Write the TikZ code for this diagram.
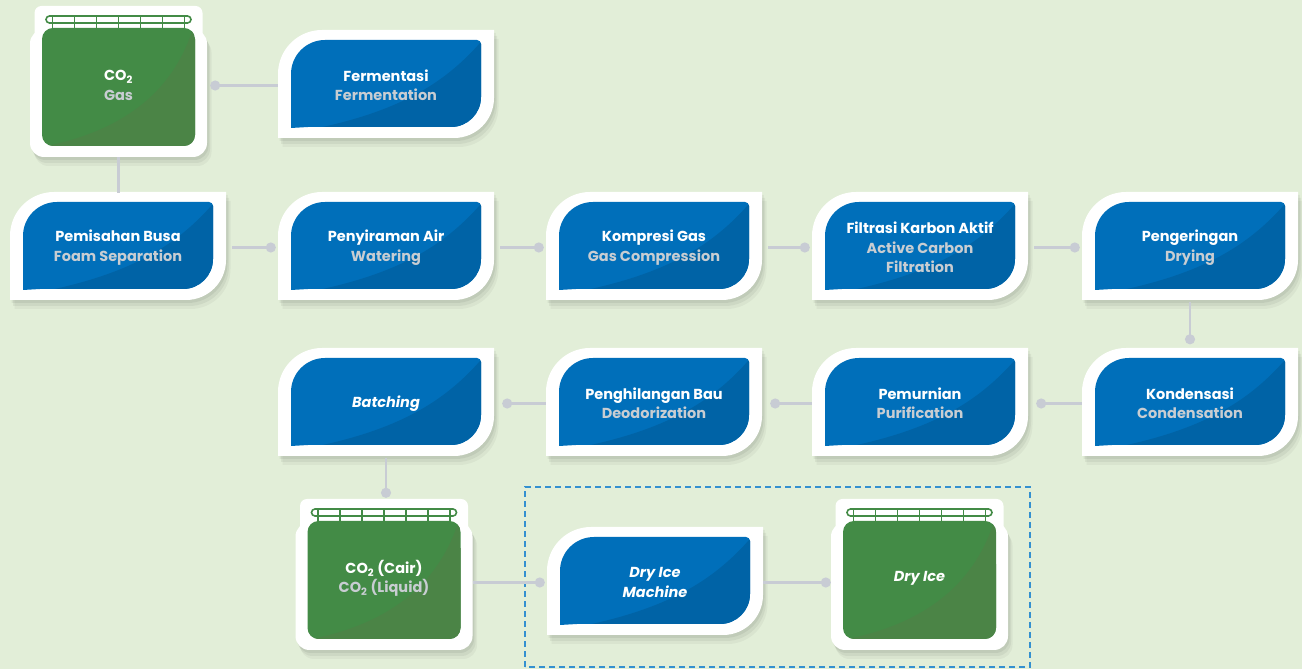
\documentclass[tikz,border=0pt]{standalone}
\usepackage{fontspec}
\setmainfont{Poppins}
\usetikzlibrary{arrows.meta}

\definecolor{bgcol}{RGB}{226,238,216}
\definecolor{boxblue}{RGB}{0,111,186}
\definecolor{boxbluedark}{RGB}{0,99,166}
\definecolor{jargreen}{RGB}{67,139,70}
\definecolor{jargreendark}{RGB}{75,132,70}
\definecolor{subgray}{RGB}{200,205,210}
\definecolor{linkgray}{RGB}{200,204,212}
\definecolor{groupblue}{RGB}{52,144,208}

\tikzset{
  steptext/.style={inner sep=0pt, minimum width=216pt, minimum height=108pt,
    align=center, text=white, font=\bfseries\fontsize{14.5}{19.5}\selectfont},
  jartext/.style={inner sep=0pt, minimum width=177pt, minimum height=143pt,
    align=center, text=white, font=\bfseries\fontsize{14.5}{19.5}\selectfont},
  link/.style={draw=linkgray, line width=2.4pt, -{Circle[length=10pt]}, shorten >=3pt},
  plainlink/.style={draw=linkgray, line width=2.4pt},
  group/.style={draw=groupblue, line width=1.4pt, dash pattern=on 6pt off 4pt}
}

\newcommand\sub[1]{{\color{subgray}#1}}
% outline of a process box, centre at origin
\newcommand\boxouter{(-108,-54) -- (-108,10) arc[start angle=180,end angle=90,radius=44pt]
  -- (108,54) -- (108,-14) arc[start angle=0,end angle=-90,radius=40pt] -- cycle}
\newcommand\boxinner{(-95,-44) -- (-95,10) arc[start angle=180,end angle=90,radius=34pt]
  -- (91,44) arc[start angle=90,end angle=0,radius=4pt]
  -- (95,-13) arc[start angle=0,end angle=-90,radius=30pt]
  -- (-78,-43) .. controls (-86,-43) .. (-95,-44) -- cycle}

% process box: name, centre, text
\newcommand\procbox[3]{%
  \begin{scope}[shift={(#2)}]
    \foreach \sh/\op in {9/0.04,6/0.05,3/0.06}
      \fill[black,opacity=\op,shift={(0.5*\sh,-\sh)}] \boxouter;
    \fill[white] \boxouter;
    \begin{scope}
      \clip \boxinner;
      \fill[boxblue] (-110,-56) rectangle (110,56);
      \fill[boxbluedark] (-100,-50) .. controls (10,-32) and (60,0) .. (100,48) -- (100,-50) -- cycle;
    \end{scope}
    \node[steptext] (#1) at (0,-1.5) {#3};
  \end{scope}}

% storage jar: name, centre, text
\newcommand\jar[3]{%
  \begin{scope}[shift={(#2)}]
    \foreach \sh/\op in {9/0.04,6/0.05,3/0.06}
      \fill[black,opacity=\op,rounded corners=14pt,shift={(0.5*\sh,-\sh)}] (-88.5,-75.5) rectangle (88.5,52);
    \fill[white,rounded corners=7pt] (-84,40) rectangle (84,75.5);
    \fill[white,rounded corners=14pt] (-88.5,-75.5) rectangle (88.5,52);
    \begin{scope}
      \clip[rounded corners=11pt] (-76.5,-64.5) rectangle (76.5,53.5);
      \fill[jargreen] (-80,-70) rectangle (80,60);
      \fill[jargreendark] (-80,-66) .. controls (10,-50) and (58,-5) .. (76,58) -- (80,-70) -- cycle;
    \end{scope}
    \draw[jargreen, line width=1.6pt, rounded corners=3.5pt] (-72.5,58.5) rectangle (72.5,65.5);
    \foreach \bx in {-66,-44,...,66}
      \draw[jargreen, line width=1.6pt] (\bx,65.5) -- (\bx,53);
    \node[jartext] (#1) at (0,-4) {#3};
  \end{scope}}

\begin{document}
\begin{tikzpicture}[x=1pt,y=1pt]
  \useasboundingbox (0,0) rectangle (1302,669);
  \fill[bgcol] (0,0) rectangle (1302,669);

  % storage jars
  \jar{gas}{118.5,587.5}{CO\textsubscript{2}\\\sub{Gas}}
  \jar{cair}{384,94.5}{CO\textsubscript{2} (Cair)\\\sub{CO\textsubscript{2} (Liquid)}}
  \jar{ice}{919.5,94.5}{\itshape Dry Ice}

  % process steps
  \procbox{ferm}{386,585}{Fermentasi\\\sub{Fermentation}}
  \procbox{pem}{118,423}{Pemisahan Busa\\\sub{Foam Separation}}
  \procbox{sir}{386,423}{Penyiraman Air\\\sub{Watering}}
  \procbox{komp}{654,423}{Kompresi Gas\\\sub{Gas Compression}}
  \procbox{filt}{920,423}{Filtrasi Karbon Aktif\\\sub{Active Carbon}\\\sub{Filtration}}
  \procbox{keri}{1190,423}{Pengeringan\\\sub{Drying}}
  \procbox{batch}{386,267}{\itshape Batching}
  \procbox{hilang}{654,267}{Penghilangan Bau\\\sub{Deodorization}}
  \procbox{murni}{920,267}{Pemurnian\\\sub{Purification}}
  \procbox{kond}{1190,267}{Kondensasi\\\sub{Condensation}}
  \procbox{dm}{655,88}{\itshape Dry Ice\\\itshape Machine}

  % dry ice unit
  \draw[group] (525,2) rectangle (1030,182);

  % connectors
  \draw[link] (ferm.west) -- (ferm.west -| gas.east);
  \draw[plainlink] (gas.south) -- (gas.south |- pem.north);
  \draw[link, shorten <=6pt, shorten >=2pt] (pem.east) -- (sir.west);
  \draw[link, shorten <=6pt, shorten >=2pt] (sir.east) -- (komp.west);
  \draw[link, shorten <=6pt, shorten >=2pt] (komp.east) -- (filt.west);
  \draw[link, shorten <=6pt, shorten >=2pt] (filt.east) -- (keri.west);
  \draw[link, shorten >=5pt] (keri.south) -- (kond.north);
  \draw[link, shorten >=8pt] (kond.west) -- (murni.east);
  \draw[link, shorten >=8pt] (murni.west) -- (hilang.east);
  \draw[link, shorten >=8pt] (hilang.west) -- (batch.east);
  \draw[link, shorten >=9pt] (batch.south) -- (batch.south |- cair.north);
  \draw[link, shorten >=2pt] (cair.east |- dm.west) -- (dm.west);
  \draw[link, shorten >=0pt] (dm.east) -- (dm.east -| ice.west);
\end{tikzpicture}
\end{document}
